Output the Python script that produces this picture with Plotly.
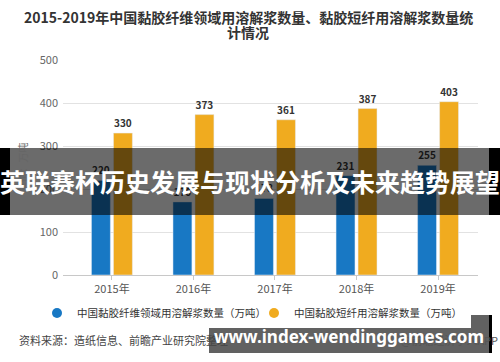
import plotly.graph_objects as go

years = ["2015年", "2016年", "2017年", "2018年", "2019年"]
viscose_fiber = [220, 170, 178, 231, 255]
viscose_staple = [330, 373, 361, 387, 403]
name_fiber = "中国黏胶纤维领域用溶解浆数量（万吨）"
name_staple = "中国黏胶短纤用溶解浆数量（万吨）"
y_ticks = [0, 100, 200, 300, 400, 500]

BLUE = "#1878c4"
ORANGE = "#f0ab1f"
FONT = "Noto Sans CJK SC"

fig = go.Figure()
fig.add_trace(go.Bar(x=years, y=viscose_fiber, name=name_fiber, marker_color=BLUE,
                     text=viscose_fiber, textposition="outside", cliponaxis=False,
                     textfont=dict(size=10, color="#333", family=FONT, weight="bold"),
                     showlegend=False))
fig.add_trace(go.Bar(x=years, y=viscose_staple, name=name_staple, marker_color=ORANGE,
                     text=viscose_staple, textposition="outside", cliponaxis=False,
                     textfont=dict(size=10, color="#333", family=FONT, weight="bold"),
                     showlegend=False))
# legend entries with circular markers
fig.add_trace(go.Scatter(x=[None], y=[None], mode="markers", name=name_fiber,
                         marker=dict(color=BLUE, size=10, symbol="circle")))
fig.add_trace(go.Scatter(x=[None], y=[None], mode="markers", name=name_staple,
                         marker=dict(color=ORANGE, size=10, symbol="circle")))

fig.update_layout(
    width=500, height=362,
    margin=dict(l=63, r=22, t=60, b=87),
    paper_bgcolor="white", plot_bgcolor="white",
    font=dict(family=FONT, size=11, color="#555"),
    barmode="group", bargap=0.46, bargroupgap=0.14,
    showlegend=True,
    legend=dict(orientation="h", x=(37 - 63) / 415, xanchor="left", y=-0.177, yanchor="middle",
                font=dict(size=10.5, color="#333", family=FONT),
                itemwidth=30, entrywidth=172, entrywidthmode="pixels"),
    xaxis=dict(type="category", range=[-0.6, 4.49], showgrid=False,
               showline=True, linecolor="#c8c8c8", linewidth=1,
               ticks="outside", ticklen=4, tickcolor="#c8c8c8",
               tickfont=dict(size=11, color="#555")),
    yaxis=dict(range=[0, 500], tickvals=y_ticks, showgrid=True, gridcolor="#e2e2e2",
               zeroline=False, showline=False, ticks="", ticklabelstandoff=4,
               tickfont=dict(size=11, color="#666"),
               title=dict(text="单位：万吨", font=dict(size=10, color="#666"), standoff=10)),
)

def px(xp):
    return (xp - 63) / 415

def py(yp):
    return (275 - yp) / 215

# title (two lines)
fig.add_annotation(text="2015-2019年中国黏胶纤维领域用溶解浆数量、黏胶短纤用溶解浆数量统",
                   xref="paper", yref="paper", x=px(248), y=py(17),
                   xanchor="center", yanchor="middle", showarrow=False,
                   font=dict(size=14, color="#333", family=FONT, weight="bold"))
fig.add_annotation(text="计情况",
                   xref="paper", yref="paper", x=px(248), y=py(32),
                   xanchor="center", yanchor="middle", showarrow=False,
                   font=dict(size=14, color="#333", family=FONT, weight="bold"))
# source line
fig.add_annotation(text="资料来源：造纸信息、前瞻产业研究院整理",
                   xref="paper", yref="paper", x=px(17), y=py(340),
                   xanchor="left", yanchor="middle", showarrow=False,
                   font=dict(size=11, color="#444", family=FONT))
fig.add_annotation(text="@前瞻经济学人APP",
                   xref="paper", yref="paper", x=px(500), y=py(340),
                   xanchor="right", yanchor="middle", showarrow=False,
                   font=dict(size=11, color="#555", family=FONT))

# overlay banners
fig.add_shape(type="rect", xref="paper", yref="paper", x0=px(10), x1=px(490), y0=py(215), y1=py(148),
              fillcolor="rgba(0,0,0,0.58)", line_width=0, layer="above")
fig.add_shape(type="rect", xref="paper", yref="paper", x0=px(0), x1=px(10), y0=py(215), y1=py(148),
              fillcolor="black", line_width=0, layer="above")
fig.add_shape(type="rect", xref="paper", yref="paper", x0=px(489), x1=px(500), y0=py(215), y1=py(148),
              fillcolor="black", line_width=0, layer="above")
fig.add_annotation(text="英联赛杯历史发展与现状分析及未来趋势展望",
                   xref="paper", yref="paper", x=px(250), y=py(181),
                   xanchor="center", yanchor="middle", showarrow=False,
                   font=dict(size=25, color="white", family=FONT, weight="bold"))

fig.add_shape(type="rect", xref="paper", yref="paper", x0=px(209), x1=px(490), y0=py(353), y1=py(315),
              fillcolor="rgba(0,0,0,0.62)", line_width=0, layer="above")
fig.add_shape(type="rect", xref="paper", yref="paper", x0=px(489), x1=px(492), y0=py(353), y1=py(315),
              fillcolor="black", line_width=0, layer="above")
fig.add_annotation(text="www.index-wendinggames.com",
                   xref="paper", yref="paper", x=px(349), y=py(336),
                   xanchor="center", yanchor="middle", showarrow=False,
                   font=dict(size=17, color="white", family="Noto Sans", weight="bold"))

fig.write_html("out.html")
